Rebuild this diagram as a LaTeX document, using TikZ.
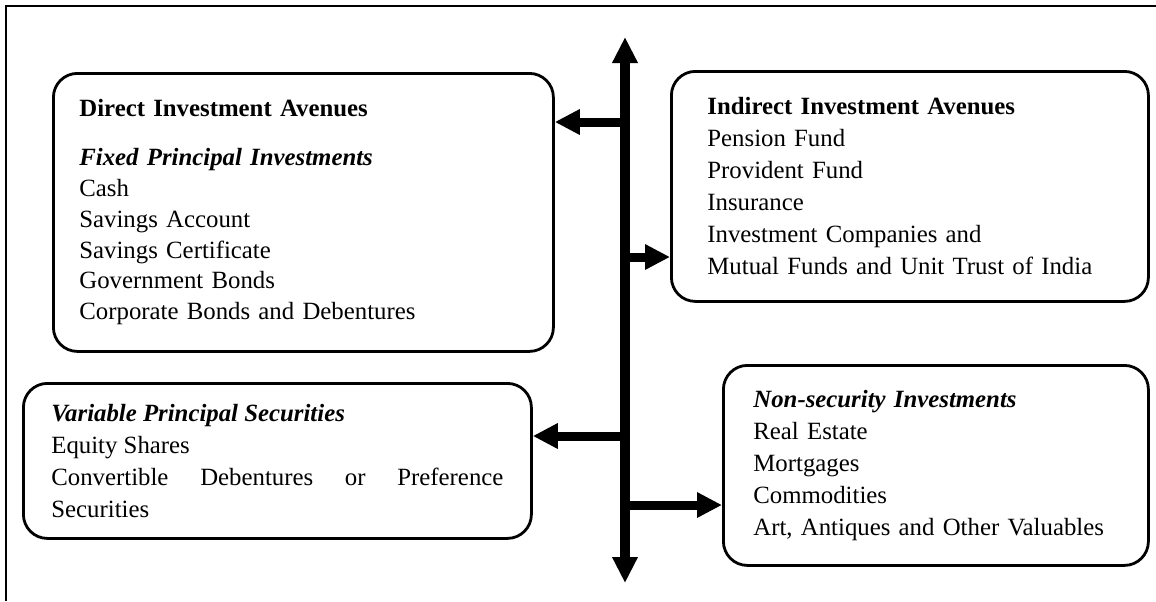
\documentclass[tikz,border=0pt]{standalone}
\usepackage{fontspec}
\setmainfont{Liberation Serif}
\usetikzlibrary{arrows.meta}
\hyphenpenalty=10000

\begin{document}
\begin{tikzpicture}[x=0.5pt,y=-0.5pt,
    avenue/.style={draw,line width=1.4pt,rounded corners=12pt,anchor=north west,
      align=left,font=\fontsize{12.4}{16}\selectfont},
    trunk/.style={line width=5pt,{Triangle[width=12pt,length=13pt]}-{Triangle[width=12pt,length=13pt]}},
    branch/.style={line width=4.5pt,-{Triangle[width=12pt,length=12.5pt]}}]
    \useasboundingbox (0,0) rectangle (1156,601);
    % frame, left and top only
    \draw[line width=1pt] (6,601) -- (6,6) -- (1156,6);

    \node[avenue,text width=224pt,inner xsep=13pt,minimum height=139pt,
      font=\fontsize{12.4}{15.4}\selectfont] (direct) at (52,72)
      {\textbf{Direct Investment Avenues}\\[9pt]
       \textbf{\textit{Fixed Principal Investments}}\\
       Cash\\Savings Account\\Savings Certificate\\Government Bonds\\
       Corporate Bonds and Debentures};
    \node[avenue,text width=202.5pt,inner xsep=18pt,minimum height=115pt] (indirect) at (670,70)
      {\textbf{Indirect Investment Avenues}\\Pension Fund\\Provident Fund\\Insurance\\
       Investment Companies and\\Mutual Funds and Unit Trust of India};
    \node[avenue,align=justify,text width=226pt,inner xsep=14pt,minimum height=77.5pt] (variable) at (22,382)
      {\textbf{\textit{Variable Principal Securities}}\\Equity Shares\\
       Convertible Debentures or Preference Securities};
    \node[avenue,text width=182.5pt,inner xsep=15pt,minimum height=100pt] (nonsec) at (722,364)
      {\textbf{\textit{Non-security Investments}}\\Real Estate\\Mortgages\\Commodities\\
       Art, Antiques and Other Valuables};

    % main axis and branches
    \coordinate (top) at (625,37);
    \coordinate (bottom) at (625,583);
    \draw[trunk] (bottom) -- (top);
    \coordinate (b1) at (625,122);
    \coordinate (b2) at (625,257);
    \coordinate (b3) at (625,436);
    \coordinate (b4) at (625,505);
    \draw[branch] (b1) -- (b1 -| direct.east);
    \draw[branch] (b2) -- (b2 -| indirect.west);
    \draw[branch] (b3) -- (b3 -| variable.east);
    \draw[branch] (b4) -- (b4 -| nonsec.west);
\end{tikzpicture}
\end{document}
